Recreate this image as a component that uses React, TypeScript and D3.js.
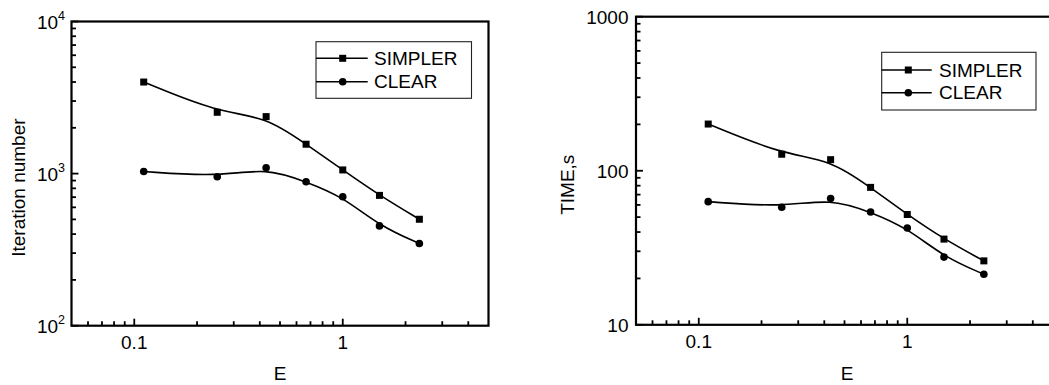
import React from "react";
import * as d3 from "d3";

const E_VALUES = [0.111, 0.25, 0.429, 0.667, 1, 1.5, 2.33];
const ITER_SIMPLER = [4000, 2530, 2370, 1560, 1057, 719, 501];
const ITER_CLEAR = [1032, 953, 1091, 883, 705, 453, 347];
const TIME_SIMPLER = [201, 128, 118, 78, 52, 36, 26];
const TIME_CLEAR = [63, 58, 66, 54, 42.5, 27.5, 21.3];

const SERIES_NAMES = ["SIMPLER", "CLEAR"];
const X_DOMAIN = [0.05, 5];
const X_MAJOR = [0.1, 1];
const X_MINOR = [0.06, 0.07, 0.08, 0.09, 0.2, 0.3, 0.4, 0.5, 0.6, 0.7, 0.8, 0.9, 2, 3, 4];
const X_LABELS = ["0.1", "1"];

const ITER_DOMAIN = [100, 10000];
const ITER_MAJOR = [100, 1000, 10000];
const ITER_EXP = ["2", "3", "4"];
const ITER_MINOR = [200, 300, 400, 500, 600, 700, 800, 900, 2000, 3000, 4000, 5000, 6000, 7000, 8000, 9000];

const TIME_DOMAIN = [10, 1000];
const TIME_MAJOR = [10, 100, 1000];
const TIME_LABELS = ["10", "100", "1000"];
const TIME_MINOR = [20, 30, 40, 50, 60, 70, 80, 90, 200, 300, 400, 500, 600, 700, 800, 900];

const FONT = "Liberation Sans, Arial, Helvetica, sans-serif";
const FS = 19;

type PanelProps = {
  left: number; right: number; top: number; bottom: number;
  yDomain: number[]; yMajor: number[]; yMinor: number[];
  yLabel: (i: number, v: number) => React.ReactNode;
  yTitle: string; yTitleX: number;
  series: number[][];
  legend: { x0: number; x1: number; y0: number; y1: number; marker: number; lineEnd: number; text: number; rows: number[] };
  xTitleX: number;
};

function Marker({ kind, x, y }: { kind: number; x: number; y: number }) {
  if (kind === 0) return <rect x={x - 3.5} y={y - 3.5} width={7} height={7} fill="#000" />;
  return <circle cx={x} cy={y} r={3.8} fill="#000" />;
}

function Panel(p: PanelProps) {
  const x = d3.scaleLog().domain(X_DOMAIN).range([p.left, p.right]);
  const y = d3.scaleLog().domain(p.yDomain).range([p.bottom, p.top]);
  const line = d3.line<number>().x((_, i) => x(E_VALUES[i])).y((d) => y(d)).curve(d3.curveBasis);
  const lg = p.legend;
  return (
    <g fontFamily={FONT}>
      {p.series.map((s, k) => (
        <g key={k}>
          <path d={line(s) || ""} fill="none" stroke="#000" strokeWidth={1.6} />
          {s.map((v, i) => <Marker key={i} kind={k} x={x(E_VALUES[i])} y={y(v)} />)}
        </g>
      ))}
      {X_MAJOR.map((v) => <line key={"xM" + v} x1={x(v)} x2={x(v)} y1={p.bottom} y2={p.bottom - 7} stroke="#000" strokeWidth={1.8} />)}
      {X_MINOR.map((v) => <line key={"xm" + v} x1={x(v)} x2={x(v)} y1={p.bottom} y2={p.bottom - 4.5} stroke="#000" strokeWidth={1.8} />)}
      {p.yMajor.map((v) => <line key={"yM" + v} x1={p.left} x2={p.left + 7} y1={y(v)} y2={y(v)} stroke="#000" strokeWidth={1.8} />)}
      {p.yMinor.map((v) => <line key={"ym" + v} x1={p.left} x2={p.left + 4.5} y1={y(v)} y2={y(v)} stroke="#000" strokeWidth={1.8} />)}
      <rect x={p.left} y={p.top} width={p.right - p.left} height={p.bottom - p.top} fill="none" stroke="#000" strokeWidth={2.2} />
      {X_MAJOR.map((v, i) => (
        <text key={"xl" + v} x={x(v)} y={p.bottom + 22.8} fontSize={FS} textAnchor="middle" fill="#000">{X_LABELS[i]}</text>
      ))}
      {p.yMajor.map((v, i) => (
        <g key={"yl" + v}>{p.yLabel(i, y(v))}</g>
      ))}
      <text x={p.xTitleX} y={379.5} fontSize={FS} textAnchor="middle" fill="#000">E</text>
      <text transform={`translate(${p.yTitleX},${(p.top + p.bottom) / 2 + 14}) rotate(-90)`} fontSize={FS} textAnchor="middle" fill="#000">{p.yTitle}</text>
      <rect x={lg.x0} y={lg.y0} width={lg.x1 - lg.x0} height={lg.y1 - lg.y0} fill="#fff" stroke="#222" strokeWidth={1.1} />
      {SERIES_NAMES.map((n, k) => (
        <g key={n}>
          <line x1={lg.x0} x2={lg.lineEnd} y1={lg.rows[k]} y2={lg.rows[k]} stroke="#000" strokeWidth={1.5} />
          <Marker kind={k} x={lg.marker} y={lg.rows[k]} />
          <text x={lg.text} y={lg.rows[k] + 6.7} fontSize={FS} fill="#000">{n}</text>
        </g>
      ))}
    </g>
  );
}

export default function App() {
  const leftL = 71.5, leftR = 488.5;
  const rightL = 636, rightR = 1053;
  return (
    <svg width={1049} height={385} style={{ position: "absolute", left: 0, top: 0, background: "#fff" }}>
      <rect x={0} y={0} width={1049} height={385} fill="#fff" />
      <Panel
        left={leftL} right={leftR} top={21.5} bottom={325.7}
        yDomain={ITER_DOMAIN} yMajor={ITER_MAJOR} yMinor={ITER_MINOR}
        yLabel={(i, yy) => (
          <text x={leftL - 6.5} y={yy + 7.2} fontSize={FS} textAnchor="end" fill="#000" fontFamily={FONT}>
            10<tspan fontSize={12.5} dy={-8.5}>{ITER_EXP[i]}</tspan>
          </text>
        )}
        yTitle="Iteration number" yTitleX={25}
        series={[ITER_SIMPLER, ITER_CLEAR]}
        legend={{ x0: 316, x1: 471.5, y0: 41.7, y1: 98.3, marker: 342.7, lineEnd: 367.7, text: 374, rows: [58.3, 81.7] }}
        xTitleX={280}
      />
      <Panel
        left={rightL} right={rightR} top={16.7} bottom={324.8}
        yDomain={TIME_DOMAIN} yMajor={TIME_MAJOR} yMinor={TIME_MINOR}
        yLabel={(i, yy) => (
          <text x={rightL - 7.5} y={yy + 6.8} fontSize={FS} textAnchor="end" fill="#000" fontFamily={FONT}>
            {TIME_LABELS[i]}
          </text>
        )}
        yTitle="TIME,s" yTitleX={574}
        series={[TIME_SIMPLER, TIME_CLEAR]}
        legend={{ x0: 881.7, x1: 1036, y0: 52.3, y1: 110, marker: 908.3, lineEnd: 931.7, text: 939, rows: [70, 92.7] }}
        xTitleX={847}
      />
    </svg>
  );
}
